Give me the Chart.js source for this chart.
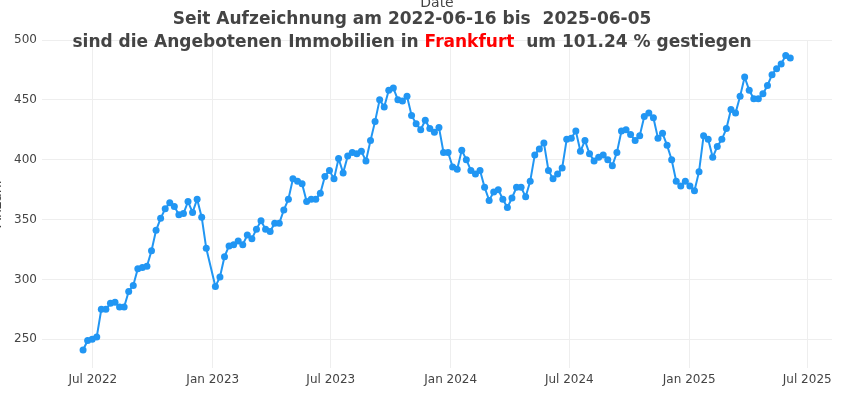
<!DOCTYPE html>
<html>
  <head>
    <title>Angebotene Immobilien Frankfurt</title>
    <style>
      body { margin: 0; background: #fff; }
      #myChart { display: block; }
    </style>
  </head>
  <body>
    <script src="https://cdn.jsdelivr.net/npm/chart.js"></script>

    <canvas id="myChart" width="844" height="395"></canvas>

    <script>
      // weekly snapshots (2022-12-29 is missing in the source)
      const dates = [
        '2022-06-16','2022-06-23','2022-06-30','2022-07-07','2022-07-14','2022-07-21','2022-07-28','2022-08-04',
        '2022-08-11','2022-08-18','2022-08-25','2022-09-01','2022-09-08','2022-09-15','2022-09-22','2022-09-29',
        '2022-10-06','2022-10-13','2022-10-20','2022-10-27','2022-11-03','2022-11-10','2022-11-17','2022-11-24',
        '2022-12-01','2022-12-08','2022-12-15','2022-12-22',
        '2023-01-05','2023-01-12','2023-01-19','2023-01-26','2023-02-02','2023-02-09','2023-02-16','2023-02-23',
        '2023-03-02','2023-03-09','2023-03-16','2023-03-23','2023-03-30','2023-04-06','2023-04-13','2023-04-20',
        '2023-04-27','2023-05-04','2023-05-11','2023-05-18','2023-05-25','2023-06-01','2023-06-08','2023-06-15',
        '2023-06-22','2023-06-29','2023-07-06','2023-07-13','2023-07-20','2023-07-27','2023-08-03','2023-08-10',
        '2023-08-17','2023-08-24','2023-08-31','2023-09-07','2023-09-14','2023-09-21','2023-09-28','2023-10-05',
        '2023-10-12','2023-10-19','2023-10-26','2023-11-02','2023-11-09','2023-11-16','2023-11-23','2023-11-30',
        '2023-12-07','2023-12-14','2023-12-21','2023-12-28',
        '2024-01-04','2024-01-11','2024-01-18','2024-01-25','2024-02-01','2024-02-08','2024-02-15','2024-02-22',
        '2024-02-29','2024-03-07','2024-03-14','2024-03-21','2024-03-28','2024-04-04','2024-04-11','2024-04-18',
        '2024-04-25','2024-05-02','2024-05-09','2024-05-16','2024-05-23','2024-05-30','2024-06-06','2024-06-13',
        '2024-06-20','2024-06-27','2024-07-04','2024-07-11','2024-07-18','2024-07-25','2024-08-01','2024-08-08',
        '2024-08-15','2024-08-22','2024-08-29','2024-09-05','2024-09-12','2024-09-19','2024-09-26','2024-10-03',
        '2024-10-10','2024-10-17','2024-10-24','2024-10-31','2024-11-07','2024-11-14','2024-11-21','2024-11-28',
        '2024-12-05','2024-12-12','2024-12-19','2024-12-26',
        '2025-01-02','2025-01-09','2025-01-16','2025-01-23','2025-01-30','2025-02-06','2025-02-13','2025-02-20',
        '2025-02-27','2025-03-06','2025-03-13','2025-03-20','2025-03-27','2025-04-03','2025-04-10','2025-04-17',
        '2025-04-24','2025-05-01','2025-05-08','2025-05-15','2025-05-22','2025-05-29','2025-06-05'
      ];

      const counts = [
        241, 249, 250, 252, 275, 275, 280, 281,
        277, 277, 290, 295, 309, 310, 311, 324,
        341, 351, 359, 364, 361, 354, 355, 365,
        356, 367, 352, 326,
        294, 302, 319, 328, 329, 332, 329, 337,
        334, 342, 349, 342, 340, 347, 347, 358,
        367, 384, 382, 380, 365, 367, 367, 372,
        386, 391, 384, 401, 389, 403, 406, 405,
        407, 399, 416, 432, 450, 444, 458, 460,
        450, 449, 453, 437, 430, 425, 433, 426,
        423, 427, 406, 406,
        394, 392, 408, 400, 391, 388, 391, 377,
        366, 373, 375, 367, 360, 368, 377, 377,
        369, 382, 404, 409, 414, 391, 384, 388,
        393, 417, 418, 424, 407, 416, 405, 399,
        402, 404, 400, 395, 406, 424, 425, 421,
        416, 420, 436, 439, 435, 418, 422, 412,
        400, 382, 378, 382,
        378, 374, 390, 420, 417, 402, 411, 417,
        426, 442, 439, 453, 469, 458, 451, 451,
        455, 462, 471, 476, 480, 487, 485
      ];

      const xTickDates = ['2022-07-01', '2023-01-01', '2023-07-01', '2024-01-01', '2024-07-01', '2025-01-01', '2025-07-01'];
      const yTicks = [250, 300, 350, 400, 450, 500];
      const monthNames = ['Jan', 'Feb', 'Mar', 'Apr', 'May', 'Jun', 'Jul', 'Aug', 'Sep', 'Oct', 'Nov', 'Dec'];

      const cityName = 'Frankfurt';
      const startDate = '2022-06-16';
      const endDate = '2025-06-05';
      const changePct = '101.24';

      const FONT = '"DejaVu Sans", Verdana, sans-serif';

      const points = dates.map((d, i) => ({ x: Date.parse(d), y: counts[i] }));

      // title, axis titles (plotly-style text outside the plot area)
      const titlePlugin = {
        id: 'titles',
        afterDraw(chart) {
          const ctx = chart.ctx;
          ctx.save();
          ctx.textBaseline = 'alphabetic';

          // x axis title, sits above the plot and is cut off at the top
          ctx.font = '14px ' + FONT;
          ctx.fillStyle = '#444';
          ctx.textAlign = 'center';
          ctx.fillText('Date', 437, 7);

          // y axis title, mostly outside the canvas
          ctx.save();
          ctx.translate(1, 204);
          ctx.rotate(-Math.PI / 2);
          ctx.fillText('Anzahl', 0, 0);
          ctx.restore();

          // main title, two lines, city in red
          ctx.font = 'bold 17px ' + FONT;
          ctx.textAlign = 'left';
          const cx = 412;
          const line1 = 'Seit Aufzeichnung am ' + startDate + ' bis  ' + endDate;
          const w1 = ctx.measureText(line1).width;
          ctx.fillStyle = '#444';
          ctx.fillText(line1, cx - w1 / 2, 24);

          const parts = [
            ['sind die Angebotenen Immobilien in ', '#444'],
            [cityName, '#ff0000'],
            ['  um ' + changePct + ' % gestiegen', '#444']
          ];
          const w2 = parts.reduce((s, p) => s + ctx.measureText(p[0]).width, 0);
          let x = cx - w2 / 2;
          parts.forEach(p => {
            ctx.fillStyle = p[1];
            ctx.fillText(p[0], x, 47);
            x += ctx.measureText(p[0]).width;
          });
          ctx.restore();
        }
      };

      const ctx = document.getElementById('myChart').getContext('2d');
      const chart = new Chart(ctx, {
        type: 'line',
        data: {
          datasets: [{
            label: 'Anzahl',
            data: points,
            borderColor: '#2196f3',
            backgroundColor: '#2196f3',
            borderWidth: 2,
            pointRadius: 3.5,
            pointBorderWidth: 0,
            tension: 0,
          }],
        },
        options: {
          responsive: false,
          animation: false,
          devicePixelRatio: 1,
          layout: {
            padding: { top: 40, right: 12, left: 0, bottom: 0 },
          },
          plugins: {
            legend: { display: false },
            tooltip: { enabled: false },
          },
          scales: {
            x: {
              type: 'linear',
              min: Date.parse('2022-04-14'),
              max: Date.parse('2025-08-08'),
              afterFit: (scale) => { scale.height = 27; },
              afterBuildTicks: (scale) => {
                scale.ticks = xTickDates.map(d => ({ value: Date.parse(d) }));
              },
              grid: { color: '#eee', drawTicks: false },
              border: { display: false },
              ticks: {
                padding: 5,
                color: '#444',
                font: { family: FONT, size: 12 },
                maxRotation: 0,
                autoSkip: false,
                callback: (value) => {
                  const d = new Date(value);
                  return monthNames[d.getUTCMonth()] + ' ' + d.getUTCFullYear();
                },
              },
            },
            y: {
              min: 226,
              max: 500,
              afterFit: (scale) => { scale.width = 42; },
              afterBuildTicks: (scale) => {
                scale.ticks = yTicks.map(v => ({ value: v }));
              },
              grid: { color: '#eee', drawTicks: false },
              border: { display: false },
              ticks: {
                padding: 5,
                color: '#444',
                font: { family: FONT, size: 12 },
              },
            },
          },
        },
        plugins: [titlePlugin],
      });
    </script>
  </body>
</html>
